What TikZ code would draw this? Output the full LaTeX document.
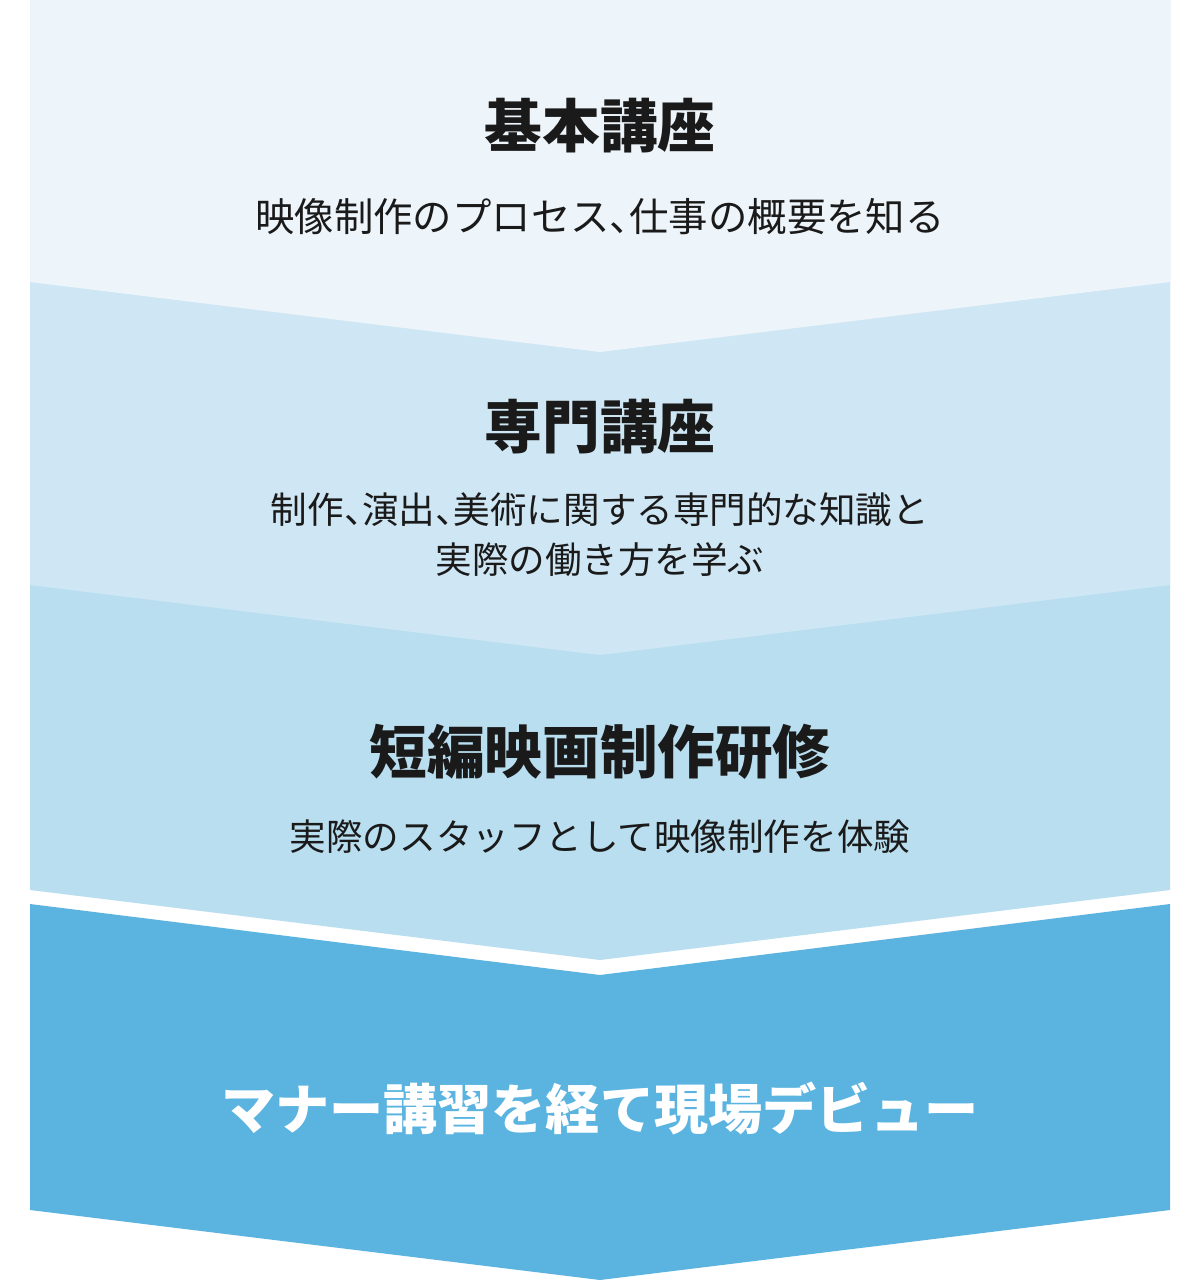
\documentclass[tikz,border=0pt]{standalone}
\usepackage{fontspec}
\usepackage{tikz}
\newfontfamily\jp[RawFeature=+halt]{Noto Sans CJK JP}
\definecolor{bandone}{HTML}{EEF5FA}
\definecolor{bandtwo}{HTML}{CFE7F4}
\definecolor{bandthree}{HTML}{B9DEF0}
\definecolor{bandfour}{HTML}{5BB4E0}
\definecolor{ink}{HTML}{1A1A1A}
\begin{document}
\begin{tikzpicture}[x=0.025cm,y=-0.025cm]
\tikzstyle{every node}+=[inner sep=0pt]
\tikzstyle{title}=[font={\jp\bfseries\fontsize{41}{48}\selectfont}, text=ink]
\tikzstyle{sub}=[font={\jp\fontsize{26}{35.6}\selectfont}, text=ink, align=center]
\useasboundingbox (0,0) rectangle (1200,1284);
\fill [white] (0,0) rectangle (1200,1284);
% bands, drawn from the bottom one up
\fill [bandthree] (30,0) -- (1170,0) -- (1170,890) -- (600,960) -- (30,890) -- cycle;
\fill [bandtwo] (30,0) -- (1170,0) -- (1170,585) -- (600,655) -- (30,585) -- cycle;
\fill [bandone] (30,0) -- (1170,0) -- (1170,282) -- (600,352) -- (30,282) -- cycle;
\fill [bandfour] (30,904) -- (600,975) -- (1170,904) -- (1170,1210) -- (600,1280) -- (30,1210) -- cycle;
% texts
\node [title] (kihon) at (600,126) {基本講座};
\node [sub, font={\jp\fontsize{28}{35.6}\selectfont}] (kihonsub) at (600,217) {映像制作のプロセス、仕事の概要を知る};
\node [title] (senmon) at (600,427) {専門講座};
\node [sub] (senmonsub) at (600,535) {制作、演出、美術に関する専門的な知識と\\実際の働き方を学ぶ};
\node [title] (tanpen) at (600,752) {短編映画制作研修};
\node [sub] (tanpensub) at (600,837) {実際のスタッフとして映像制作を体験};
\node [title, font={\jp\bfseries\fontsize{38.5}{46}\selectfont}, text=white] (debut) at (600,1108) {マナー講習を経て現場デビュー};
\end{tikzpicture}
\end{document}
